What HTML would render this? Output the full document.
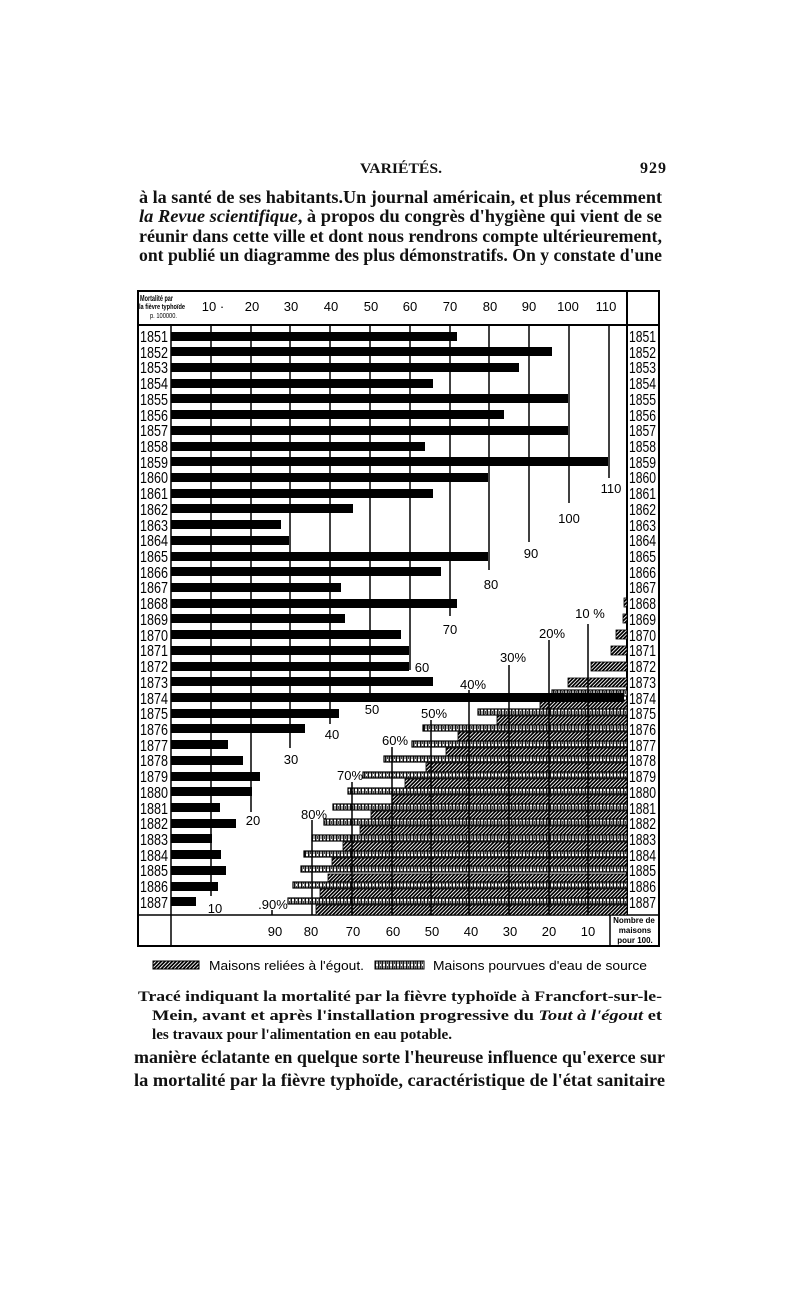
<!DOCTYPE html>
<html><head><meta charset="utf-8"><style>
html,body{margin:0;padding:0;background:#fff}
svg{display:block}
.s{font-family:"Liberation Serif",serif;font-weight:bold;fill:#111}
.a{font-family:"Liberation Sans",sans-serif;fill:#000}
</style></head><body>
<svg width="800" height="1304" viewBox="0 0 800 1304" xmlns="http://www.w3.org/2000/svg">
<defs>
<pattern id="dk" width="2.6" height="2.6" patternUnits="userSpaceOnUse" patternTransform="rotate(45)">
<rect width="2.6" height="2.6" fill="#fff"/><rect width="1.7" height="2.6" fill="#000"/></pattern>
<pattern id="wt" width="3.5" height="5" patternUnits="userSpaceOnUse">
<rect width="3.5" height="5" fill="#fff"/><rect x="0" y="0" width="1.5" height="5" fill="#111"/><rect x="2" y="1" width="1" height="3" fill="#444"/></pattern>
</defs>

<text class="s" x="360" y="173" font-size="15" textLength="82" lengthAdjust="spacingAndGlyphs">VARIÉTÉS.</text>
<text class="s" x="640" y="173" font-size="16" textLength="26">929</text>
<text class="s" x="139" y="203" font-size="18" textLength="523" lengthAdjust="spacingAndGlyphs">à la santé de ses habitants.Un journal américain, et plus récemment</text>
<text class="s" x="139" y="222" font-size="18" textLength="523" lengthAdjust="spacingAndGlyphs"><tspan font-style="italic">la Revue scientifique</tspan>, à propos du congrès d'hygiène qui vient de se</text>
<text class="s" x="139" y="242" font-size="18" textLength="523" lengthAdjust="spacingAndGlyphs">réunir dans cette ville et dont nous rendrons compte ultérieurement,</text>
<text class="s" x="139" y="261" font-size="18" textLength="523" lengthAdjust="spacingAndGlyphs">ont publié un diagramme des plus démonstratifs. On y constate d'une</text>

<text class="s" x="138" y="1001" font-size="15" textLength="524" lengthAdjust="spacingAndGlyphs">Tracé indiquant la mortalité par la fièvre typhoïde à Francfort-sur-le-</text>
<text class="s" x="152" y="1020" font-size="15" textLength="510" lengthAdjust="spacingAndGlyphs">Mein, avant et après l'installation progressive du <tspan font-style="italic">Tout à l'égout</tspan> et</text>
<text class="s" x="152" y="1039" font-size="15" textLength="300" lengthAdjust="spacingAndGlyphs">les travaux pour l'alimentation en eau potable.</text>
<text class="s" x="134" y="1063" font-size="18" textLength="531" lengthAdjust="spacingAndGlyphs">manière éclatante en quelque sorte l'heureuse influence qu'exerce sur</text>
<text class="s" x="134" y="1086" font-size="18" textLength="531" lengthAdjust="spacingAndGlyphs">la mortalité par la fièvre typhoïde, caractéristique de l'état sanitaire</text>

<g stroke="#000" fill="none">
<rect x="138" y="291" width="521" height="655" stroke-width="2"/>
<line x1="138" y1="325" x2="659" y2="325" stroke-width="2"/>
<line x1="171" y1="325" x2="171" y2="946" stroke-width="1.5"/>
<line x1="627" y1="291" x2="627" y2="915" stroke-width="2"/>
<line x1="138" y1="915" x2="659" y2="915" stroke-width="1.5"/>
<line x1="610" y1="915" x2="610" y2="946" stroke-width="1.5"/>
<g stroke-width="1.5">
<line x1="211" y1="325" x2="211" y2="896"/>
<line x1="251" y1="325" x2="251" y2="812"/>
<line x1="290" y1="325" x2="290" y2="748"/>
<line x1="330" y1="325" x2="330" y2="724"/>
<line x1="370" y1="325" x2="370" y2="698"/>
<line x1="410" y1="325" x2="410" y2="670"/>
<line x1="450" y1="325" x2="450" y2="616"/>
<line x1="489" y1="325" x2="489" y2="570"/>
<line x1="529" y1="325" x2="529" y2="542"/>
<line x1="569" y1="325" x2="569" y2="503"/>
<line x1="609" y1="325" x2="609" y2="478"/>
</g>
</g>

<text class="a" x="140" y="301" font-size="8.5" font-weight="bold" textLength="33" lengthAdjust="spacingAndGlyphs">Mortalité par</text>
<text class="a" x="139" y="309" font-size="7" font-weight="bold" textLength="46" lengthAdjust="spacingAndGlyphs">la fièvre typhoïde</text>
<text class="a" x="150" y="318" font-size="7" textLength="27" lengthAdjust="spacingAndGlyphs">p. 100000.</text>
<g class="a" font-size="13" text-anchor="middle">
<text x="213" y="311">10 ·</text><text x="252" y="311">20</text><text x="291" y="311">30</text>
<text x="331" y="311">40</text><text x="371" y="311">50</text><text x="410" y="311">60</text>
<text x="450" y="311">70</text><text x="490" y="311">80</text><text x="529" y="311">90</text>
<text x="568" y="311">100</text><text x="606" y="311">110</text>
</g>

<g fill="url(#dk)" stroke="#000" stroke-width="0.8">
<rect x="624" y="598" width="3" height="9"/>
<rect x="623" y="614" width="4" height="9"/>
<rect x="616" y="630" width="11" height="9"/>
<rect x="611" y="646" width="16" height="9"/>
<rect x="591" y="662" width="36" height="9"/>
<rect x="568" y="678" width="59" height="9"/>
<rect x="540" y="700" width="87" height="10"/>
<rect x="497" y="716" width="130" height="10"/>
<rect x="458" y="732" width="169" height="10"/>
<rect x="446" y="748" width="181" height="10"/>
<rect x="426" y="763" width="201" height="10"/>
<rect x="405" y="779" width="222" height="10"/>
<rect x="392" y="795" width="235" height="10"/>
<rect x="371" y="811" width="256" height="10"/>
<rect x="360" y="826" width="267" height="10"/>
<rect x="343" y="842" width="284" height="10"/>
<rect x="332" y="858" width="295" height="10"/>
<rect x="328" y="874" width="299" height="10"/>
<rect x="320" y="889" width="307" height="10"/>
<rect x="316" y="905" width="311" height="10"/>
</g>
<g fill="url(#wt)" stroke="#000" stroke-width="1.2">
<rect x="552" y="690" width="75" height="6"/>
<rect x="478" y="709" width="149" height="6"/>
<rect x="423" y="725" width="204" height="6"/>
<rect x="412" y="741" width="215" height="6"/>
<rect x="384" y="756" width="243" height="6"/>
<rect x="363" y="772" width="264" height="6"/>
<rect x="348" y="788" width="279" height="6"/>
<rect x="333" y="804" width="294" height="6"/>
<rect x="324" y="819" width="303" height="6"/>
<rect x="312" y="835" width="315" height="6"/>
<rect x="304" y="851" width="323" height="6"/>
<rect x="301" y="866" width="326" height="6"/>
<rect x="293" y="882" width="334" height="6"/>
<rect x="288" y="898" width="339" height="6"/>
</g>

<g fill="#000">
<rect x="171" y="332" width="286" height="9"/>
<rect x="171" y="347" width="381" height="9"/>
<rect x="171" y="363" width="348" height="9"/>
<rect x="171" y="379" width="262" height="9"/>
<rect x="171" y="394" width="397" height="9"/>
<rect x="171" y="410" width="333" height="9"/>
<rect x="171" y="426" width="397" height="9"/>
<rect x="171" y="442" width="254" height="9"/>
<rect x="171" y="457" width="437" height="9"/>
<rect x="171" y="473" width="317" height="9"/>
<rect x="171" y="489" width="262" height="9"/>
<rect x="171" y="504" width="182" height="9"/>
<rect x="171" y="520" width="110" height="9"/>
<rect x="171" y="536" width="118" height="9"/>
<rect x="171" y="552" width="317" height="9"/>
<rect x="171" y="567" width="270" height="9"/>
<rect x="171" y="583" width="170" height="9"/>
<rect x="171" y="599" width="286" height="9"/>
<rect x="171" y="614" width="174" height="9"/>
<rect x="171" y="630" width="230" height="9"/>
<rect x="171" y="646" width="238" height="9"/>
<rect x="171" y="662" width="238" height="9"/>
<rect x="171" y="677" width="262" height="9"/>
<rect x="171" y="693" width="453" height="9"/>
<rect x="171" y="709" width="168" height="9"/>
<rect x="171" y="724" width="134" height="9"/>
<rect x="171" y="740" width="57" height="9"/>
<rect x="171" y="756" width="72" height="9"/>
<rect x="171" y="772" width="89" height="9"/>
<rect x="171" y="787" width="81" height="9"/>
<rect x="171" y="803" width="49" height="9"/>
<rect x="171" y="819" width="65" height="9"/>
<rect x="171" y="834" width="41" height="9"/>
<rect x="171" y="850" width="50" height="9"/>
<rect x="171" y="866" width="55" height="9"/>
<rect x="171" y="882" width="47" height="9"/>
<rect x="171" y="897" width="25" height="9"/>
</g>

<g stroke="#000" stroke-width="1.5">
<line x1="588" y1="624" x2="588" y2="915"/>
<line x1="549" y1="640" x2="549" y2="915"/>
<line x1="509" y1="665" x2="509" y2="915"/>
<line x1="469" y1="690" x2="469" y2="915"/>
<line x1="431" y1="720" x2="431" y2="915"/>
<line x1="392" y1="747" x2="392" y2="915"/>
<line x1="352" y1="782" x2="352" y2="915"/>
<line x1="312" y1="820" x2="312" y2="915"/>
<line x1="272" y1="910" x2="272" y2="915"/>
</g>

<g class="a" font-size="13" text-anchor="middle">
<text x="611" y="493">110</text><text x="569" y="523">100</text><text x="531" y="558">90</text>
<text x="491" y="589">80</text><text x="450" y="634">70</text><text x="422" y="672">60</text>
<text x="372" y="714">50</text><text x="332" y="739">40</text><text x="291" y="764">30</text>
<text x="253" y="825">20</text><text x="215" y="913">10</text>
<text x="590" y="618">10 %</text><text x="552" y="638">20%</text><text x="513" y="662">30%</text>
<text x="473" y="689">40%</text><text x="434" y="718">50%</text><text x="395" y="745">60%</text>
<text x="350" y="780">70%</text><text x="314" y="819">80%</text><text x="273" y="909">.90%</text>
</g>
<g class="a" font-size="13" text-anchor="middle">
<text x="275" y="936">90</text><text x="311" y="936">80</text><text x="353" y="936">70</text>
<text x="393" y="936">60</text><text x="432" y="936">50</text><text x="471" y="936">40</text>
<text x="510" y="936">30</text><text x="549" y="936">20</text><text x="588" y="936">10</text>
</g>
<g class="a" font-size="8" font-weight="bold" text-anchor="middle">
<text x="634" y="923">Nombre de</text><text x="635" y="933">maisons</text><text x="635" y="943">pour 100.</text>
</g>

<g class="a" font-size="16">
<text x="140" y="342" textLength="28" lengthAdjust="spacingAndGlyphs">1851</text>
<text x="140" y="358" textLength="28" lengthAdjust="spacingAndGlyphs">1852</text>
<text x="140" y="373" textLength="28" lengthAdjust="spacingAndGlyphs">1853</text>
<text x="140" y="389" textLength="28" lengthAdjust="spacingAndGlyphs">1854</text>
<text x="140" y="405" textLength="28" lengthAdjust="spacingAndGlyphs">1855</text>
<text x="140" y="421" textLength="28" lengthAdjust="spacingAndGlyphs">1856</text>
<text x="140" y="436" textLength="28" lengthAdjust="spacingAndGlyphs">1857</text>
<text x="140" y="452" textLength="28" lengthAdjust="spacingAndGlyphs">1858</text>
<text x="140" y="468" textLength="28" lengthAdjust="spacingAndGlyphs">1859</text>
<text x="140" y="483" textLength="28" lengthAdjust="spacingAndGlyphs">1860</text>
<text x="140" y="499" textLength="28" lengthAdjust="spacingAndGlyphs">1861</text>
<text x="140" y="515" textLength="28" lengthAdjust="spacingAndGlyphs">1862</text>
<text x="140" y="531" textLength="28" lengthAdjust="spacingAndGlyphs">1863</text>
<text x="140" y="546" textLength="28" lengthAdjust="spacingAndGlyphs">1864</text>
<text x="140" y="562" textLength="28" lengthAdjust="spacingAndGlyphs">1865</text>
<text x="140" y="578" textLength="28" lengthAdjust="spacingAndGlyphs">1866</text>
<text x="140" y="593" textLength="28" lengthAdjust="spacingAndGlyphs">1867</text>
<text x="140" y="609" textLength="28" lengthAdjust="spacingAndGlyphs">1868</text>
<text x="140" y="625" textLength="28" lengthAdjust="spacingAndGlyphs">1869</text>
<text x="140" y="641" textLength="28" lengthAdjust="spacingAndGlyphs">1870</text>
<text x="140" y="656" textLength="28" lengthAdjust="spacingAndGlyphs">1871</text>
<text x="140" y="672" textLength="28" lengthAdjust="spacingAndGlyphs">1872</text>
<text x="140" y="688" textLength="28" lengthAdjust="spacingAndGlyphs">1873</text>
<text x="140" y="704" textLength="28" lengthAdjust="spacingAndGlyphs">1874</text>
<text x="140" y="719" textLength="28" lengthAdjust="spacingAndGlyphs">1875</text>
<text x="140" y="735" textLength="28" lengthAdjust="spacingAndGlyphs">1876</text>
<text x="140" y="751" textLength="28" lengthAdjust="spacingAndGlyphs">1877</text>
<text x="140" y="766" textLength="28" lengthAdjust="spacingAndGlyphs">1878</text>
<text x="140" y="782" textLength="28" lengthAdjust="spacingAndGlyphs">1879</text>
<text x="140" y="798" textLength="28" lengthAdjust="spacingAndGlyphs">1880</text>
<text x="140" y="814" textLength="28" lengthAdjust="spacingAndGlyphs">1881</text>
<text x="140" y="829" textLength="28" lengthAdjust="spacingAndGlyphs">1882</text>
<text x="140" y="845" textLength="28" lengthAdjust="spacingAndGlyphs">1883</text>
<text x="140" y="861" textLength="28" lengthAdjust="spacingAndGlyphs">1884</text>
<text x="140" y="876" textLength="28" lengthAdjust="spacingAndGlyphs">1885</text>
<text x="140" y="892" textLength="28" lengthAdjust="spacingAndGlyphs">1886</text>
<text x="140" y="908" textLength="28" lengthAdjust="spacingAndGlyphs">1887</text>
</g>
<g class="a" font-size="16">
<text x="629" y="342" textLength="27" lengthAdjust="spacingAndGlyphs">1851</text>
<text x="629" y="358" textLength="27" lengthAdjust="spacingAndGlyphs">1852</text>
<text x="629" y="373" textLength="27" lengthAdjust="spacingAndGlyphs">1853</text>
<text x="629" y="389" textLength="27" lengthAdjust="spacingAndGlyphs">1854</text>
<text x="629" y="405" textLength="27" lengthAdjust="spacingAndGlyphs">1855</text>
<text x="629" y="421" textLength="27" lengthAdjust="spacingAndGlyphs">1856</text>
<text x="629" y="436" textLength="27" lengthAdjust="spacingAndGlyphs">1857</text>
<text x="629" y="452" textLength="27" lengthAdjust="spacingAndGlyphs">1858</text>
<text x="629" y="468" textLength="27" lengthAdjust="spacingAndGlyphs">1859</text>
<text x="629" y="483" textLength="27" lengthAdjust="spacingAndGlyphs">1860</text>
<text x="629" y="499" textLength="27" lengthAdjust="spacingAndGlyphs">1861</text>
<text x="629" y="515" textLength="27" lengthAdjust="spacingAndGlyphs">1862</text>
<text x="629" y="531" textLength="27" lengthAdjust="spacingAndGlyphs">1863</text>
<text x="629" y="546" textLength="27" lengthAdjust="spacingAndGlyphs">1864</text>
<text x="629" y="562" textLength="27" lengthAdjust="spacingAndGlyphs">1865</text>
<text x="629" y="578" textLength="27" lengthAdjust="spacingAndGlyphs">1866</text>
<text x="629" y="593" textLength="27" lengthAdjust="spacingAndGlyphs">1867</text>
<text x="629" y="609" textLength="27" lengthAdjust="spacingAndGlyphs">1868</text>
<text x="629" y="625" textLength="27" lengthAdjust="spacingAndGlyphs">1869</text>
<text x="629" y="641" textLength="27" lengthAdjust="spacingAndGlyphs">1870</text>
<text x="629" y="656" textLength="27" lengthAdjust="spacingAndGlyphs">1871</text>
<text x="629" y="672" textLength="27" lengthAdjust="spacingAndGlyphs">1872</text>
<text x="629" y="688" textLength="27" lengthAdjust="spacingAndGlyphs">1873</text>
<text x="629" y="704" textLength="27" lengthAdjust="spacingAndGlyphs">1874</text>
<text x="629" y="719" textLength="27" lengthAdjust="spacingAndGlyphs">1875</text>
<text x="629" y="735" textLength="27" lengthAdjust="spacingAndGlyphs">1876</text>
<text x="629" y="751" textLength="27" lengthAdjust="spacingAndGlyphs">1877</text>
<text x="629" y="766" textLength="27" lengthAdjust="spacingAndGlyphs">1878</text>
<text x="629" y="782" textLength="27" lengthAdjust="spacingAndGlyphs">1879</text>
<text x="629" y="798" textLength="27" lengthAdjust="spacingAndGlyphs">1880</text>
<text x="629" y="814" textLength="27" lengthAdjust="spacingAndGlyphs">1881</text>
<text x="629" y="829" textLength="27" lengthAdjust="spacingAndGlyphs">1882</text>
<text x="629" y="845" textLength="27" lengthAdjust="spacingAndGlyphs">1883</text>
<text x="629" y="861" textLength="27" lengthAdjust="spacingAndGlyphs">1884</text>
<text x="629" y="876" textLength="27" lengthAdjust="spacingAndGlyphs">1885</text>
<text x="629" y="892" textLength="27" lengthAdjust="spacingAndGlyphs">1886</text>
<text x="629" y="908" textLength="27" lengthAdjust="spacingAndGlyphs">1887</text>
</g>

<rect x="153" y="961" width="46" height="8" fill="url(#dk)" stroke="#000" stroke-width="1"/>
<text class="a" x="209" y="970" font-size="13" textLength="155" lengthAdjust="spacingAndGlyphs">Maisons reliées à l'égout.</text>
<rect x="375" y="961" width="49" height="8" fill="url(#wt)" stroke="#000" stroke-width="1"/>
<text class="a" x="433" y="970" font-size="13" textLength="214" lengthAdjust="spacingAndGlyphs">Maisons pourvues d'eau de source</text>
</svg>
</body></html>
